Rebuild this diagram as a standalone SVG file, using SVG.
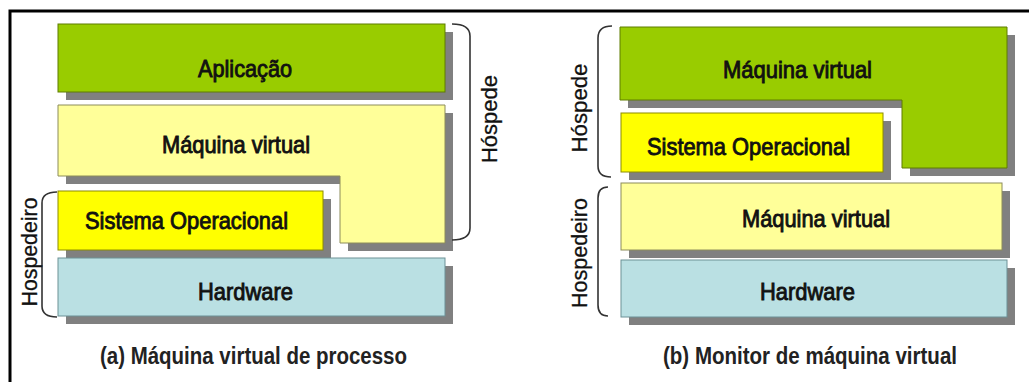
<svg xmlns="http://www.w3.org/2000/svg" width="1029" height="382" viewBox="0 0 1029 382">
<style>
.sh{fill:#808080}
.green{fill:#99CC00;stroke:#5e7d00;stroke-width:1}
.pale{fill:#FFFF99;stroke:#8c8c5a;stroke-width:1}
.yel{fill:#FFFF00;stroke:#8c8c00;stroke-width:1}
.blue{fill:#BAE0E3;stroke:#6c9196;stroke-width:1}
.lbl{font-family:"Liberation Sans Narrow","Liberation Sans",Arial,sans-serif;font-size:24px;fill:#111;stroke:#111;stroke-width:0.9;text-anchor:middle}
.cap{font-family:"Liberation Sans Narrow","Liberation Sans",Arial,sans-serif;font-size:23px;font-weight:bold;fill:#222;text-anchor:middle}
.rot{font-family:"Liberation Sans",Arial,sans-serif;font-size:22px;fill:#111;stroke:#111;stroke-width:0.3;text-anchor:middle}
.brace{fill:none;stroke:#333;stroke-width:1.6}
</style>
<path d="M10,382 V11 H1029" fill="none" stroke="#000" stroke-width="3"/>

<g id="a-aplicacao">
<rect class="sh" x="66" y="32" width="387" height="68"/>
<rect class="green" x="58" y="24" width="387" height="68"/>
<text class="lbl" x="245" y="77" textLength="94" lengthAdjust="spacingAndGlyphs">Aplicação</text>
</g>
<g id="a-maquina-virtual">
<path class="sh" d="M66,113 H453 V251 H348 V184 H66 Z"/>
<path class="pale" d="M58,105 H445 V243 H340 V176 H58 Z"/>
<text class="lbl" x="236" y="153" textLength="148" lengthAdjust="spacingAndGlyphs">Máquina virtual</text>
</g>
<g id="a-sistema-operacional">
<rect class="sh" x="66" y="199" width="265" height="59"/>
<rect class="yel" x="58" y="191" width="265" height="59"/>
<text class="lbl" x="186.5" y="229" textLength="203" lengthAdjust="spacingAndGlyphs">Sistema Operacional</text>
</g>
<g id="a-hardware">
<rect class="sh" x="66" y="266" width="387" height="58"/>
<rect class="blue" x="58" y="258" width="387" height="58"/>
<text class="lbl" x="245.5" y="300" textLength="95" lengthAdjust="spacingAndGlyphs">Hardware</text>
</g>
<g id="a-hospede">
<path class="brace" d="M452,24 Q470,24 470,36 V228 Q470,240 452,240"/>
<text class="rot" transform="translate(497,119) rotate(-90)" textLength="88" lengthAdjust="spacingAndGlyphs">Hóspede</text>
</g>
<g id="a-hospedeiro">
<path class="brace" d="M57,192 Q42,192 42,203 V306 Q42,317 57,317"/>
<text class="rot" transform="translate(37,252) rotate(-90)" textLength="109" lengthAdjust="spacingAndGlyphs">Hospedeiro</text>
</g>
<g id="a-caption">
<text class="cap" x="253.5" y="364" textLength="307" lengthAdjust="spacingAndGlyphs">(a) Máquina virtual de processo</text>
</g>

<g id="b-maquina-virtual-guest">
<path class="sh" d="M628,35 H1015 V176 H910 V108 H628 Z"/>
<path class="green" d="M620,27 H1007 V168 H902 V100 H620 Z"/>
<text class="lbl" x="797.5" y="78" textLength="149" lengthAdjust="spacingAndGlyphs">Máquina virtual</text>
</g>
<g id="b-sistema-operacional">
<rect class="sh" x="629" y="121" width="262" height="59"/>
<rect class="yel" x="621" y="113" width="262" height="59"/>
<text class="lbl" x="748.5" y="155" textLength="203" lengthAdjust="spacingAndGlyphs">Sistema Operacional</text>
</g>
<g id="b-maquina-virtual-host">
<rect class="sh" x="629" y="191" width="381" height="67"/>
<rect class="pale" x="621" y="183" width="381" height="67"/>
<text class="lbl" x="816" y="227" textLength="148" lengthAdjust="spacingAndGlyphs">Máquina virtual</text>
</g>
<g id="b-hardware">
<rect class="sh" x="629" y="268" width="386" height="57"/>
<rect class="blue" x="621" y="260" width="386" height="57"/>
<text class="lbl" x="807.5" y="300" textLength="95" lengthAdjust="spacingAndGlyphs">Hardware</text>
</g>
<g id="b-hospede">
<path class="brace" d="M612,26 Q598,26 598,38 V166 Q598,177 611,177"/>
<text class="rot" transform="translate(587,108) rotate(-90)" textLength="89" lengthAdjust="spacingAndGlyphs">Hóspede</text>
</g>
<g id="b-hospedeiro">
<path class="brace" d="M608,187 Q598,187 598,198 V305 Q598,316 608,316"/>
<text class="rot" transform="translate(587,253) rotate(-90)" textLength="110" lengthAdjust="spacingAndGlyphs">Hospedeiro</text>
</g>
<g id="b-caption">
<text class="cap" x="810" y="364" textLength="294" lengthAdjust="spacingAndGlyphs">(b) Monitor de máquina virtual</text>
</g>
<g id="connectors"/>
</svg>
